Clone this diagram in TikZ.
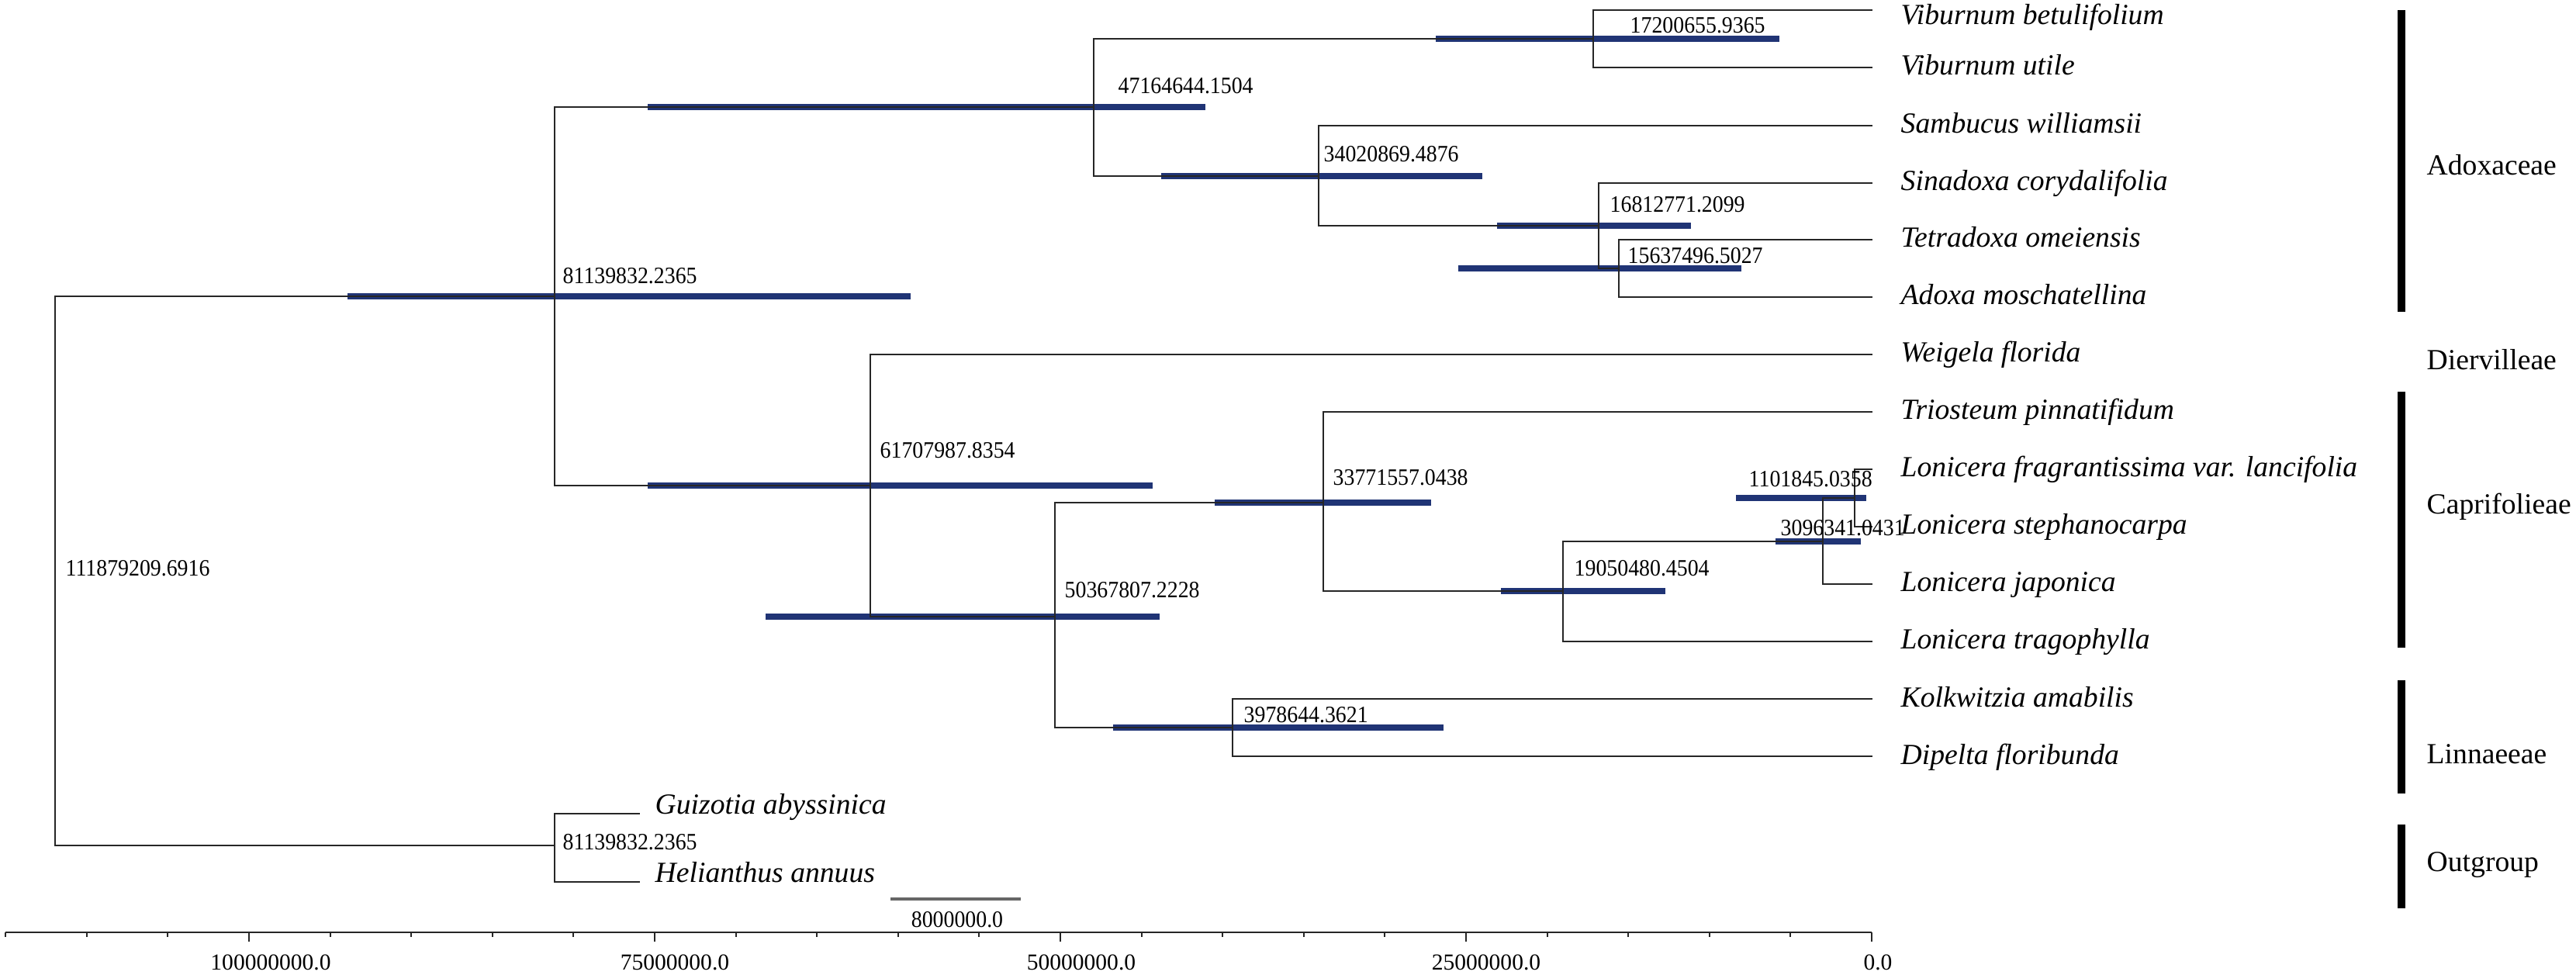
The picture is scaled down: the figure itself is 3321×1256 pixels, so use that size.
\documentclass[tikz,border=0pt]{standalone}
\usepackage{fontspec}
\setmainfont{Liberation Serif}
\newfontfamily\numfont[FakeStretch=0.92]{Liberation Serif}
\definecolor{hpdblue}{HTML}{203475}
\begin{document}
\begin{tikzpicture}[x=0.01cm,y=-0.01cm,
  branch/.style={line width=0.7pt, draw=black!85},
  hpd/.style={line width=2.3pt, draw=hpdblue, line cap=butt},
  grpbar/.style={line width=3.1pt, draw=black},
  leaflbl/.style={anchor=base west, inner sep=0pt, font=\fontsize{10.7}{12}\selectfont\itshape},
  numlbl/.style={anchor=base west, inner sep=0pt, font=\fontsize{8.6}{10}\selectfont\numfont},
  grplbl/.style={anchor=base west, inner sep=0pt, font=\fontsize{10.7}{12}\selectfont},
  axlbl/.style={anchor=base, inner sep=0pt, font=\fontsize{8.4}{10}\selectfont},
  axisline/.style={line width=0.6pt, draw=black!85},
  scalebar/.style={line width=0.9pt, draw=black!60},
]
\useasboundingbox[fill=white] (0,0) rectangle (3321,1256);

% ---------- tree node positions ----------
\coordinate (root) at (71,736);
\coordinate (n81)  at (715,382);
\coordinate (nout) at (715,1090);
\coordinate (n47)  at (1410,138);
\coordinate (n61)  at (1122,626);
\coordinate (n17)  at (2054,50);
\coordinate (n34)  at (1700,227);
\coordinate (n168) at (2061,291);
\coordinate (n156) at (2087,346);
\coordinate (n50)  at (1360,795);
\coordinate (n33)  at (1706,648);
\coordinate (n39)  at (1589,938);
\coordinate (n19)  at (2015,762);
\coordinate (n30)  at (2350,698);
\coordinate (n11)  at (2391,642);

% leaves (line ends)
\coordinate (l1)  at (2414,13);
\coordinate (l2)  at (2414,87);
\coordinate (l3)  at (2414,162);
\coordinate (l4)  at (2414,236);
\coordinate (l5)  at (2414,309);
\coordinate (l6)  at (2414,383);
\coordinate (l7)  at (2414,457);
\coordinate (l8)  at (2414,531);
\coordinate (l9)  at (2414,605);
\coordinate (l10) at (2414,679);
\coordinate (l11) at (2414,753);
\coordinate (l12) at (2414,827);
\coordinate (l13) at (2414,901);
\coordinate (l14) at (2414,975);
\coordinate (o1)  at (825,1049);
\coordinate (o2)  at (825,1137);

% ---------- HPD bars ----------
\draw[hpd] (1851,50) -- (2294,50);
\draw[hpd] (835,138) -- (1554,138);
\draw[hpd] (1497,227) -- (1911,227);
\draw[hpd] (1930,291) -- (2180,291);
\draw[hpd] (1880,346) -- (2245,346);
\draw[hpd] (448,382) -- (1174,382);
\draw[hpd] (835,626) -- (1486,626);
\draw[hpd] (987,795) -- (1495,795);
\draw[hpd] (1566,648) -- (1845,648);
\draw[hpd] (1935,762) -- (2147,762);
\draw[hpd] (2238,642) -- (2406,642);
\draw[hpd] (2289,698) -- (2399,698);
\draw[hpd] (1435,938) -- (1861,938);

% ---------- branches ----------
\draw[branch] (root) |- (n81);
\draw[branch] (root) |- (nout);
\draw[branch] (n81) |- (n47);
\draw[branch] (n81) |- (n61);
\draw[branch] (n47) |- (n17);
\draw[branch] (n47) |- (n34);
\draw[branch] (n17) |- (l1);
\draw[branch] (n17) |- (l2);
\draw[branch] (n34) |- (l3);
\draw[branch] (n34) |- (n168);
\draw[branch] (n168) |- (l4);
\draw[branch] (n168) |- (n156);
\draw[branch] (n156) |- (l5);
\draw[branch] (n156) |- (l6);
\draw[branch] (n61) |- (l7);
\draw[branch] (n61) |- (n50);
\draw[branch] (n50) |- (n33);
\draw[branch] (n50) |- (n39);
\draw[branch] (n33) |- (l8);
\draw[branch] (n33) |- (n19);
\draw[branch] (n19) |- (n30);
\draw[branch] (n19) |- (l12);
\draw[branch] (n30) |- (n11);
\draw[branch] (n30) |- (l11);
\draw[branch] (n11) |- (l9);
\draw[branch] (n11) |- (l10);
\draw[branch] (n39) |- (l13);
\draw[branch] (n39) |- (l14);
\draw[branch] (nout) |- (o1);
\draw[branch] (nout) |- (o2);

% ---------- node labels ----------
\node[numlbl] (t17)  at (2101,42)  {17200655.9365};
\node[numlbl] (t47)  at (1441,120) {47164644.1504};
\node[numlbl] (t34)  at (1706,208) {34020869.4876};
\node[numlbl] (t168) at (2075,273) {16812771.2099};
\node[numlbl] (t156) at (2098,339) {15637496.5027};
\node[numlbl] (t81)  at (725,365)  {81139832.2365};
\node[numlbl] (t61)  at (1134,590) {61707987.8354};
\node[numlbl] (t50)  at (1372,770) {50367807.2228};
\node[numlbl] (t33)  at (1718,625) {33771557.0438};
\node[numlbl] (t19)  at (2029,742) {19050480.4504};
\node[numlbl] (t39)  at (1603,931) {3978644.3621};
\node[numlbl] (t11)  at (2254,627) {1101845.0358};
\node[numlbl] (t30)  at (2295,690) {3096341.0431};
\node[numlbl] (troot) at (84,742)  {111879209.6916};
\node[numlbl] (tout) at (725,1095) {81139832.2365};

% ---------- leaf labels ----------
\node[leaflbl] (s1)  at (2450,31)  {Viburnum betulifolium};
\node[leaflbl] (s2)  at (2450,96)  {Viburnum utile};
\node[leaflbl] (s3)  at (2450,171) {Sambucus williamsii};
\node[leaflbl] (s4)  at (2450,245) {Sinadoxa corydalifolia};
\node[leaflbl] (s5)  at (2450,318) {Tetradoxa omeiensis};
\node[leaflbl] (s6)  at (2450,392) {Adoxa moschatellina};
\node[leaflbl] (s7)  at (2450,466) {Weigela florida};
\node[leaflbl] (s8)  at (2450,540) {Triosteum pinnatifidum};
\node[leaflbl] (s9)  at (2450,614) {Lonicera fragrantissima var. lancifolia};
\node[leaflbl] (s10) at (2450,688) {Lonicera stephanocarpa};
\node[leaflbl] (s11) at (2450,762) {Lonicera japonica};
\node[leaflbl] (s12) at (2450,836) {Lonicera tragophylla};
\node[leaflbl] (s13) at (2450,911) {Kolkwitzia amabilis};
\node[leaflbl] (s14) at (2450,985) {Dipelta floribunda};
\node[leaflbl] (so1) at (844,1049) {Guizotia abyssinica};
\node[leaflbl] (so2) at (844,1137) {Helianthus annuus};

% ---------- group bars and labels ----------
\draw[grpbar] (3096,13) -- (3096,402);
\draw[grpbar] (3096,505) -- (3096,835);
\draw[grpbar] (3096,877) -- (3096,1023);
\draw[grpbar] (3096,1063) -- (3096,1171);
\node[grplbl] (g1) at (3128,225)  {Adoxaceae};
\node[grplbl] (g2) at (3128,476)  {Diervilleae};
\node[grplbl] (g3) at (3128,662)  {Caprifolieae};
\node[grplbl] (g4) at (3128,984)  {Linnaeeae};
\node[grplbl] (g5) at (3128,1123) {Outgroup};

% ---------- scale bar ----------
\coordinate (sb1) at (1148,1159);
\coordinate (sb2) at (1316,1159);
\draw[scalebar] (sb1) -- (sb2);
\node[numlbl, anchor=base] (sbl) at (1234,1195) {8000000.0};

% ---------- time axis ----------
\coordinate (ax0) at (7,1202);
\coordinate (ax1) at (2413,1202);
\draw[axisline] (ax0) -- (ax1);
\foreach \v in {0,5,...,115} {
  \pgfmathsetmacro\xx{2413-20.92*\v}
  \draw[axisline] (\xx,1202) -- (\xx,1208);
}
\foreach \v in {0,25,50,75,100} {
  \pgfmathsetmacro\xx{2413-20.92*\v}
  \draw[axisline] (\xx,1202) -- (\xx,1214);
}
\node[axlbl] (a100) at (349,1250)  {100000000.0};
\node[axlbl] (a75)  at (870,1250)  {75000000.0};
\node[axlbl] (a50)  at (1394,1250) {50000000.0};
\node[axlbl] (a25)  at (1916,1250) {25000000.0};
\node[axlbl] (a0)   at (2421,1250) {0.0};
\end{tikzpicture}
\end{document}
